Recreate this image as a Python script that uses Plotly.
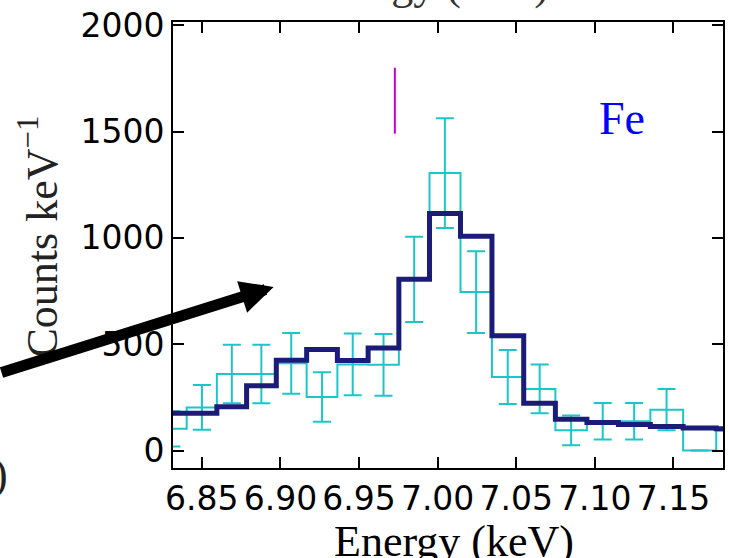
import plotly.graph_objects as go

# ---- data ----
energy_keV = [6.8307, 6.8501, 6.8691, 6.8879, 6.9069, 6.9265, 6.9460, 6.9656, 6.9851,
              7.0046, 7.0245, 7.0446, 7.0649, 7.0849, 7.1050, 7.1250, 7.1456, 7.1667, 7.1877]
data_counts = [102, 203, 360, 360, 410, 252, 405, 403, 805,
               1305, 745, 346, 290, 95, 138, 138, 192, 0, 94]
data_err = [83, 105, 138, 138, 143, 116, 145, 145, 200,
            258, 192, 127, 115, 70, 86, 86, 97, 0, 70]
model_counts = [175, 175, 206, 305, 425, 475, 424, 482, 805,
                1115, 1008, 540, 222, 147, 132, 122, 113, 106, 102]
line_energy = [6.9728, 6.9728]
line_span = [1490, 1800]
x_tickvals = [6.85, 6.90, 6.95, 7.00, 7.05, 7.10, 7.15]
x_ticktext = ["6.85", "6.90", "6.95", "7.00", "7.05", "7.10", "7.15"]
y_tickvals = [0, 500, 1000, 1500, 2000]
y_ticktext = ["0", "500", "1000", "1500", "2000"]

W, H = 730, 558
L, R, T, B = 173, 5, 22, 90
PW, PH = W - L - R, H - T - B

def px(xp):
    return (xp - L) / PW

def py(yp):
    return (H - B - yp) / PH

CYAN = "#1cc6c8"
NAVY = "#1b1b78"

fig = go.Figure()
fig.add_trace(go.Scatter(x=energy_keV, y=data_counts, mode="lines",
                         line=dict(color=CYAN, width=2, shape="hvh"), showlegend=False))
fig.add_trace(go.Scatter(x=energy_keV, y=data_counts, mode="markers",
                         marker=dict(size=0.1, color=CYAN, opacity=0),
                         error_y=dict(type="data", array=data_err, visible=True,
                                      color=CYAN, thickness=2, width=9),
                         showlegend=False))
fig.add_trace(go.Scatter(x=energy_keV, y=model_counts, mode="lines",
                         line=dict(color=NAVY, width=5, shape="hvh"), showlegend=False))
fig.add_trace(go.Scatter(x=line_energy, y=line_span, mode="lines",
                         line=dict(color="#c800cc", width=2), showlegend=False))

serif = "Liberation Serif"
ann = []
ann.append(dict(text="Fe", x=7.117, y=1560, xref="x", yref="y", showarrow=False,
                font=dict(family=serif, size=46, color="#0000ff"),
                xanchor="center", yanchor="middle"))
ann.append(dict(text="Energy (keV)", x=px(455), y=py(541), xref="paper", yref="paper",
                showarrow=False, font=dict(family=serif, size=44, color="black"),
                xanchor="center", yanchor="middle"))
ann.append(dict(text="Energy (keV)", x=px(430), y=py(11), xref="paper", yref="paper",
                showarrow=False, font=dict(family=serif, size=44, color="#333"),
                xanchor="center", yanchor="bottom"))
ann.append(dict(text="Counts keV<sup>−1</sup>", x=px(38), y=py(236), xref="paper", yref="paper",
                showarrow=False, textangle=-90,
                font=dict(family=serif, size=44, color="#222"),
                xanchor="center", yanchor="middle"))
ann.append(dict(text=")", x=px(9), y=py(474), xref="paper", yref="paper",
                showarrow=False, font=dict(family=serif, size=44, color="#222"),
                xanchor="right", yanchor="middle"))
ann.append(dict(text="", x=px(274), y=py(287), xref="paper", yref="paper",
                showarrow=True, ax=-320, ay=86, axref="pixel", ayref="pixel",
                arrowhead=2, arrowsize=0.6, arrowwidth=11, arrowcolor="black",
                standoff=0))
fig.update_layout(annotations=ann)

axis_common = dict(showgrid=False, zeroline=False, showline=True, linecolor="black",
                   linewidth=2, mirror="allticks", ticks="inside", ticklen=11,
                   tickwidth=1.5, tickcolor="black",
                   tickfont=dict(family="DejaVu Sans", size=33, color="black"))
fig.update_xaxes(range=[6.8317, 7.1815], tickvals=x_tickvals, ticktext=x_ticktext,
                 **axis_common)
fig.update_yaxes(range=[-82, 2015], tickvals=y_tickvals, ticktext=y_ticktext,
                 **axis_common)
fig.update_layout(width=W, height=H, margin=dict(l=L, r=R, t=T, b=B),
                  plot_bgcolor="white", paper_bgcolor="white")
fig.write_html("out.html")
